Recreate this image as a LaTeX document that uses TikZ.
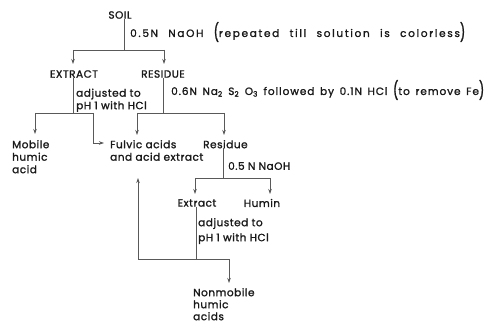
\documentclass[tikz,border=0pt]{standalone}
\usepackage{fontspec}
\setmainfont{Poppins}[LetterSpace=5,FakeBold=1.5]
\newfontfamily\widefont{Poppins}[LetterSpace=16,FakeBold=1.5]
\newfontfamily\midfont{Poppins}[LetterSpace=9,FakeBold=1.5]
\usepackage{graphicx}
\usetikzlibrary{arrows.meta}
\newcommand{\bigparen}[1]{\raisebox{-0.3ex}{\scalebox{1.1}[1.7]{#1}}}
\begin{document}
\begin{tikzpicture}[x=1pt,y=-1pt,
  txt/.style={inner sep=0pt, font=\fontsize{10.5}{12.5}\selectfont, text=black!90},
  ml/.style={txt, align=left, anchor=north west},
  ln/.style={draw=black!65, line width=0.7pt},
  arr/.style={ln, -{Stealth[length=5pt,width=3.5pt]}},
]
\useasboundingbox (0,0) rectangle (486,323);
% nodes
\node[txt] (soil) at (120,15) {SOIL};
\node[txt] (extract) at (74,74) {EXTRACT};
\node[txt] (residue) at (163,74) {RESIDUE};
\node[ml] (mobile) at (12,140) {Mobile\\humic\\acid};
\node[ml] (fulvic) at (110,140) {Fulvic acids\\and acid extract};
\node[ml] (residue2) at (203,140) {Residue};
\node[txt] (extract2) at (197,203) {Extract};
\node[txt] (humin) at (262,203) {Humin};
\node[ml, font=\fontsize{10.5}{12}\selectfont] (nonmobile) at (193,288) {Nonmobile\\humic\\acids};
% labels
\node[txt,anchor=west] (lab1) at (130,32) {\widefont\makebox[335pt][s]{0.5N NaOH \bigparen{(}repeated till solution is colorless\bigparen{)}}};
\node[txt,anchor=west] (lab2) at (171,90) {\midfont\makebox[313pt][s]{0.6N Na\textsubscript{2} S\textsubscript{2} O\textsubscript{3} followed by 0.1N HCl \bigparen{(}to remove Fe\bigparen{)}}};
\node[ml] (lab3) at (76,88.5) {adjusted to\\pH 1 with HCl};
\node[txt,anchor=west] (lab4) at (228,166) {0.5 N NaOH};
\node[ml, font=\fontsize{10.5}{15}\selectfont] (lab5) at (198,218) {adjusted to\\pH 1 with HCl};
% junction coordinates
\coordinate (j1) at (124,50);
\coordinate (j2) at (73,113);
\coordinate (j3) at (163,113);
\coordinate (j4) at (223,178);
\coordinate (j5) at (196,259);
\coordinate (fulvicin) at (138,178);
% connectors
\draw[ln] (j1 |- soil.south) -- (j1);
\draw[ln] (73,50) -- (164,50);
\draw[arr] (73,50) -- (73,64);
\draw[arr] (164,50) -- (164,64);

\draw[ln] (j2 |- extract.south) -- (j2);
\draw[ln] (35,113) -- (93,113);
\draw[arr] (35,113) -- (35,134);
\draw[arr] (93,113) |- (104,143);

\draw[ln] (j3 |- residue.south) -- (j3);
\draw[ln] (137,113) -- (224,113);
\draw[arr] (137,113) -- (137,135);
\draw[arr] (224,113) -- (224,135);

\draw[ln] (j4 |- residue2.south) -- (j4);
\draw[ln] (195,178) -- (270,178);
\draw[arr] (195,178) -- (195,194);
\draw[arr] (270,178) -- (270,194);

\draw[ln] (j5 |- extract2.south) -- (j5);
\draw[arr] (j5) -- (138,259) -- (fulvicin);
\draw[arr] (j5) -- (229,259) -- (229,283);
\end{tikzpicture}
\end{document}
